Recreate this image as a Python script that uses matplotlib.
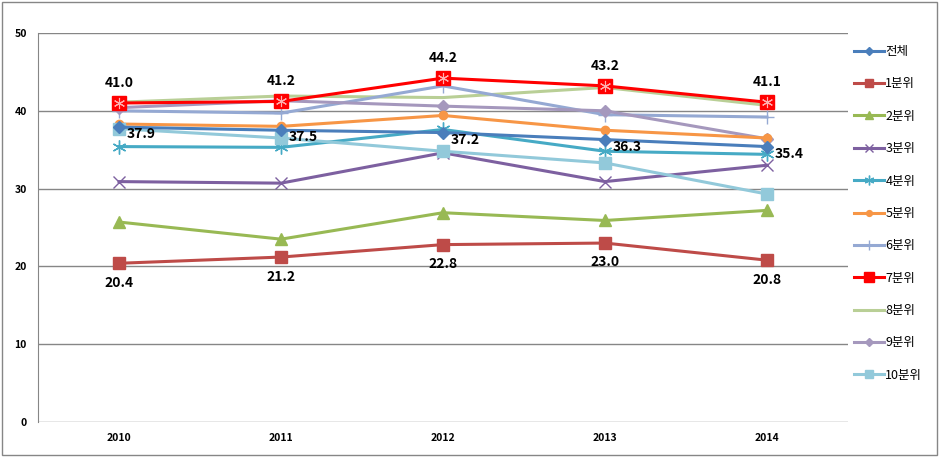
"""Line chart of income share by decile, 2010-2014."""

import matplotlib
matplotlib.use("Agg")
import matplotlib.pyplot as plt
from matplotlib.patches import Rectangle
import numpy as np

plt.rcParams['font.family'] = ['Noto Sans CJK KR', 'DejaVu Sans']

years = ["2010", "2011", "2012", "2013", "2014"]

total = [37.9, 37.5, 37.2, 36.3, 35.4]
q1 = [20.4, 21.2, 22.8, 23.0, 20.8]
q2 = [25.7, 23.5, 26.9, 25.9, 27.2]
q3 = [30.9, 30.7, 34.6, 30.9, 33.0]
q4 = [35.4, 35.3, 37.6, 34.8, 34.4]
q5 = [38.3, 38.0, 39.4, 37.5, 36.5]
q6 = [40.0, 39.7, 43.2, 39.5, 39.2]
q7 = [41.0, 41.2, 44.2, 43.2, 41.1]
q8 = [41.1, 41.9, 41.7, 43.0, 40.7]
q9 = [40.4, 41.3, 40.6, 40.0, 36.4]
q10 = [37.7, 36.5, 34.8, 33.3, 29.3]

series_names = ["전체", "1분위", "2분위", "3분위", "4분위", "5분위",
                "6분위", "7분위", "8분위", "9분위", "10분위"]
series_values = [total, q1, q2, q3, q4, q5, q6, q7, q8, q9, q10]

styles = [
    dict(color="#4A7EBB", marker="D", ms=6),
    dict(color="#BE4B48", marker="s", ms=8),
    dict(color="#98B954", marker="^", ms=8),
    dict(color="#7D60A0", marker="x", ms=9, mew=1.0),
    dict(color="#46AAC5", marker=(6, 2, 0), ms=10, mew=1.0),
    dict(color="#F79646", marker="o", ms=6),
    dict(color="#95A9D3", marker="+", ms=10, mew=1.0),
    dict(color="#FF0000", marker="s", ms=10),
    dict(color="#B9CF96", marker=None, ms=0),
    dict(color="#A598BD", marker="D", ms=6),
    dict(color="#92C9DA", marker="s", ms=8),
]

fig = plt.figure(figsize=(9.39, 4.57), dpi=100)
ax = fig.add_axes([0.0405, 0.0766, 0.8625, 0.8512])

x = np.arange(len(years))
order = [8, 6, 9, 5, 4, 3, 10, 2, 1, 0, 7]
handles = {}
for i in order:
    st = styles[i]
    line, = ax.plot(x, series_values[i], color=st["color"], lw=2.2,
                    marker=st["marker"], markersize=st["ms"],
                    markeredgewidth=st.get("mew", 1.0),
                    markeredgecolor=st["color"], label=series_names[i],
                    zorder=3 + (i == 7))
    handles[i] = line

# asterisk inside the 7분위 squares
ax.plot(x, q7, ls="none", marker=(6, 2, 0), ms=8, mew=0.8,
        color="#FFB0B0", zorder=5)

label_kw = dict(fontsize=10, fontweight="bold", color="black",
                ha="center", va="center")
for xi, v in zip(x, q7):
    ax.annotate(f"{v:.1f}", (xi, v), xytext=(0, 14.5),
                textcoords="offset points", **label_kw)
for xi, v in zip(x, q1):
    ax.annotate(f"{v:.1f}", (xi, v), xytext=(0, -14),
                textcoords="offset points", **label_kw)
for xi, v in zip(x, total):
    ax.annotate(f"{v:.1f}", (xi, v), xytext=(16, -5),
                textcoords="offset points", **label_kw)

ax.set_xlim(-0.5, len(years) - 0.5)
ax.set_ylim(0, 50)
ax.set_yticks(np.arange(0, 51, 10))
ax.set_xticks(x)
ax.set_xticklabels(years)
ax.tick_params(axis="both", length=0, labelsize=7.5, pad=8)
for lab in ax.get_xticklabels() + ax.get_yticklabels():
    lab.set_fontweight("bold")
ax.grid(axis="y", color="#868686", lw=1.0)
ax.set_axisbelow(True)
for side in ["top", "right", "bottom"]:
    ax.spines[side].set_visible(False)
ax.spines["left"].set_color("#868686")

ax.legend([handles[i] for i in range(11)], series_names,
          loc="upper left", bbox_to_anchor=(1.0, 0.985), frameon=False,
          fontsize=9, labelspacing=1.55, handlelength=2.4,
          handletextpad=0.1, borderaxespad=0.1, markerscale=0.7)

fig.patches.append(Rectangle((0.002, 0.004), 0.996, 0.992,
                             transform=fig.transFigure, fill=False,
                             edgecolor="#868686", lw=1.0))

fig.savefig("out.png", dpi=100)
